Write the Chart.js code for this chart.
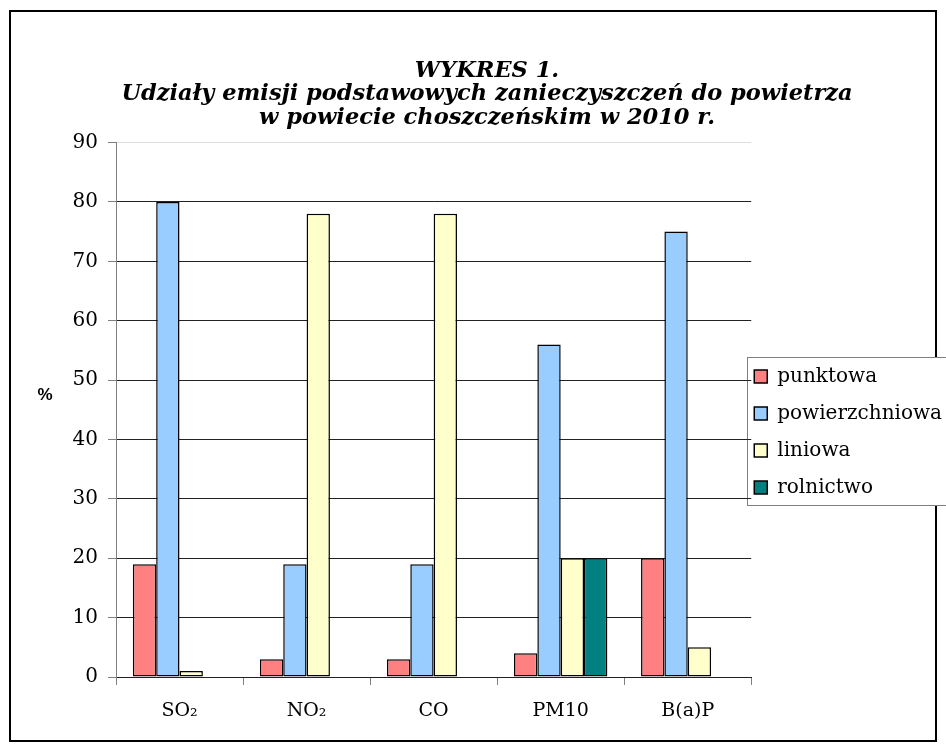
<!DOCTYPE html>
<html>
<head>
<meta charset="utf-8">
<script src="https://cdn.jsdelivr.net/npm/chart.js@4/dist/chart.umd.min.js"></script>
<style>
  html, body { margin: 0; padding: 0; background: #fff; }
  #wrap { width: 946px; height: 752px; }
</style>
</head>
<body>
<div id="wrap"><canvas id="chart" width="946" height="752"></canvas></div>
<script>
// chart data
const categories = ['SO\u2082', 'NO\u2082', 'CO', 'PM10', 'B(a)P']
const seriesNames = ['punktowa', 'powierzchniowa', 'liniowa', 'rolnictwo']
const punktowa = [19, 3, 3, 4, 20]
const powierzchniowa = [80, 19, 19, 56, 75]
const liniowa = [1, 78, 78, 20, 5]
const rolnictwo = [null, null, null, 20, null]
const yTicks = [0, 10, 20, 30, 40, 50, 60, 70, 80, 90]
const titleLines = [
  'WYKRES 1.',
  'Udziały emisji podstawowych zanieczyszczeń do powietrza',
  'w powiecie choszczeńskim w 2010 r.'
]

const colors = ['#FF8080', '#99CCFF', '#FFFFCC', '#008080']
const serif = "'DejaVu Serif', serif"

// outer frame + legend box, then the % label
const framePlugin = {
  id: 'frame',
  beforeDraw(chart) {
    const ctx = chart.ctx
    ctx.save()
    ctx.strokeStyle = '#000'
    ctx.lineWidth = 2
    ctx.strokeRect(10, 11, 926, 730)
    const lg = chart.legend
    if (lg && lg.legendHitBoxes && lg.legendHitBoxes.length) {
      const hb = lg.legendHitBoxes
      const top = Math.round(hb[0].top - 10)
      const bottom = Math.round(hb[hb.length - 1].top + 27)
      const left = Math.round(lg.left) - 4
      ctx.fillStyle = '#fff'
      ctx.fillRect(left, top, chart.width - left, bottom - top)
      ctx.strokeStyle = '#808080'
      ctx.lineWidth = 1
      ctx.strokeRect(left + 0.5, top + 0.5, chart.width, bottom - top)
    }
    ctx.restore()
  },
  afterDraw(chart) {
    const ctx = chart.ctx
    const a = chart.chartArea
    ctx.save()
    ctx.font = "bold 17px 'Liberation Sans', Arial, sans-serif"
    ctx.fillStyle = '#000'
    ctx.textAlign = 'center'
    ctx.textBaseline = 'middle'
    ctx.fillText('%', 45, (a.top + a.bottom) / 2 - 14)
    ctx.restore()
  }
}

const datasets = [punktowa, powierzchniowa, liniowa, rolnictwo].map((d, i) => ({
  label: seriesNames[i],
  data: d,
  backgroundColor: colors[i],
  borderColor: '#000',
  borderWidth: 1.5,
  borderSkipped: false,
  categoryPercentage: 0.735,
  barPercentage: 1
}))

new Chart('chart', {
  type: 'bar',
  data: { labels: categories, datasets: datasets },
  options: {
    responsive: false,
    animation: false,
    layout: { padding: { left: 22, right: -6, top: 0, bottom: 0 } },
    plugins: {
      title: {
        display: true,
        text: titleLines,
        color: '#000',
        font: { family: serif, size: 22.5, weight: 'bold', style: 'italic', lineHeight: 1.045 },
        padding: { top: 59, bottom: 13 }
      },
      legend: {
        position: 'right',
        title: { display: true, text: ' ', font: { size: 10, lineHeight: 1 }, padding: { top: 116, bottom: 0 } },
        labels: {
          color: '#000',
          font: { family: serif, size: 20, lineHeight: 1.7 },
          boxWidth: 13,
          boxHeight: 13,
          padding: 3,
          generateLabels(chart) {
            const items = Chart.defaults.plugins.legend.labels.generateLabels(chart)
            items.forEach(it => { it.text = [it.text]; it.lineWidth = 1.5 })
            return items
          }
        }
      },
      tooltip: { enabled: false }
    },
    scales: {
      x: {
        grid: { drawOnChartArea: false, tickLength: 8, color: '#808080', offset: true },
        border: { color: '#222', width: 1 },
        ticks: { color: '#000', font: { family: serif, size: 19 }, padding: 15 },
        afterFit(s) { s.height = 75 }
      },
      y: {
        min: 0,
        max: 90,
        afterBuildTicks(s) { s.ticks = yTicks.map(v => ({ value: v })) },
        grid: {
          tickLength: 8,
          color: ctx => (ctx.tick && ctx.tick.value === 90 ? '#ddd' : '#222'),
          tickColor: '#808080'
        },
        border: { color: '#808080', width: 1 },
        ticks: { color: '#000', font: { family: serif, size: 20 }, padding: 10 },
        afterFit(s) { s.width = 94 }
      }
    }
  },
  plugins: [framePlugin]
})
</script>
</body>
</html>
